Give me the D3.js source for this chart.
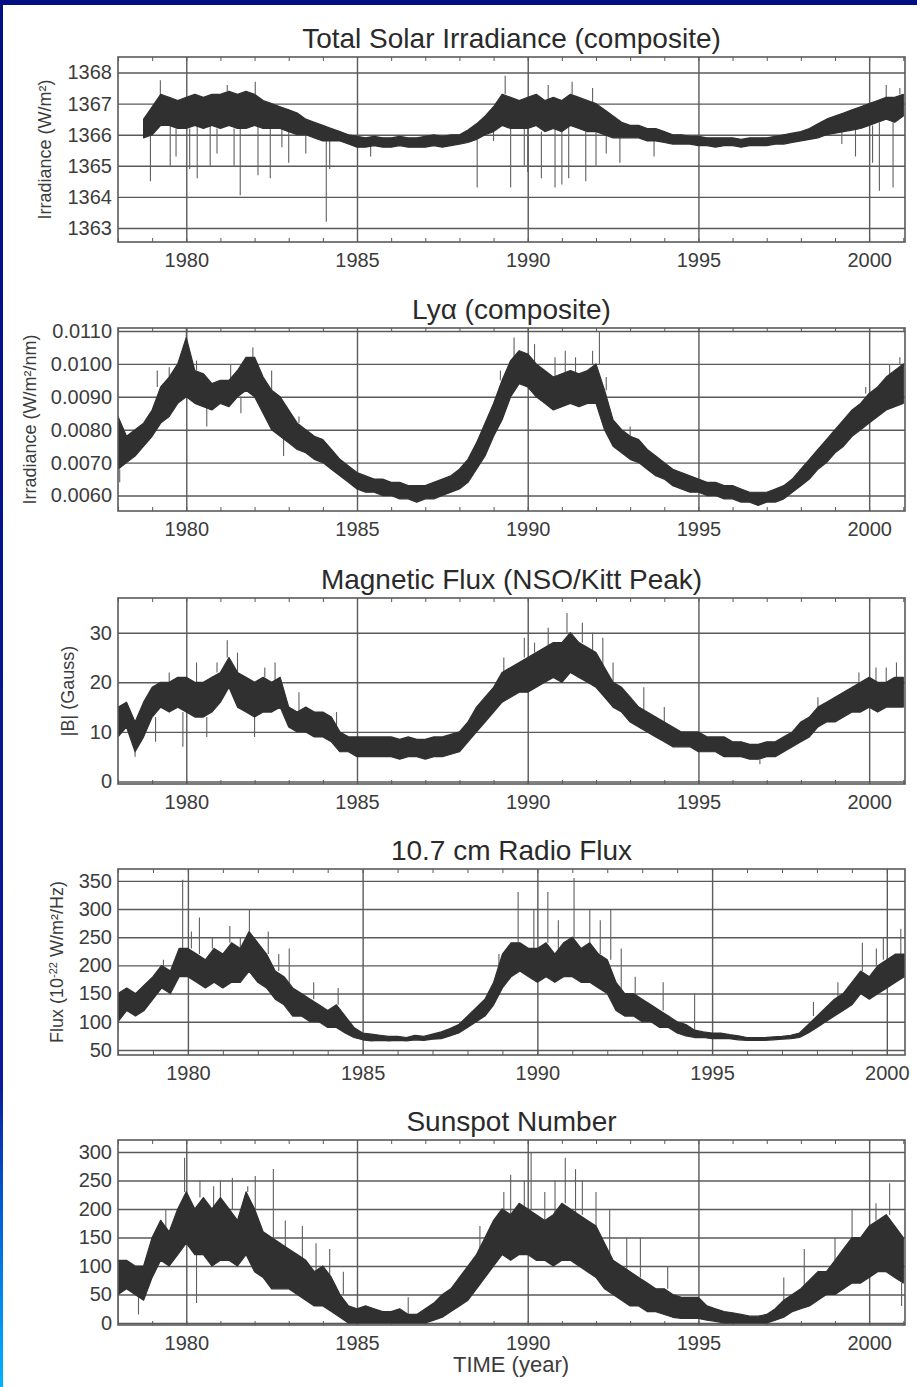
<!DOCTYPE html>
<html>
<head>
<meta charset="utf-8">
<script src="https://cdn.jsdelivr.net/npm/d3@7"></script>
<style>
  body { margin: 0; background: #fff; }
  svg text { font-family: "Liberation Sans", Arial, Helvetica, sans-serif; }
</style>
</head>
<body>
<div id="chart"></div>
<script>
// quarterly sampling grid, 1978.00 .. 2001.00
var sampleYears = d3.range(1978, 2001.001, 0.25);
var majorYears = [1980, 1985, 1990, 1995, 2000];
var minorYears = d3.range(1978, 2002, 1);

// Total solar irradiance, core band (W/m2)
var tsiLo = [null,null,null,1365.9,
  1366.0,1366.3,1366.3,1366.2, 1366.2,1366.3,1366.2,1366.3, 1366.2,1366.3,1366.2,1366.2,
  1366.3,1366.2,1366.2,1366.2, 1366.1,1366.0,1366.0,1365.9, 1365.8,1365.8,1365.8,1365.7,
  1365.6,1365.6,1365.65,1365.6, 1365.6,1365.65,1365.6,1365.6, 1365.6,1365.65,1365.6,1365.65,
  1365.7,1365.75,1365.85,1366.0, 1366.1,1366.3,1366.2,1366.2, 1366.2,1366.3,1366.1,1366.2,
  1366.1,1366.3,1366.2,1366.1, 1366.1,1366.0,1365.9,1365.9, 1365.9,1365.9,1365.8,1365.8,
  1365.75,1365.7,1365.7,1365.7, 1365.65,1365.65,1365.6,1365.65, 1365.65,1365.6,1365.65,1365.65,
  1365.65,1365.7,1365.7,1365.75, 1365.8,1365.85,1365.9,1366.0, 1366.05,1366.1,1366.15,1366.2,
  1366.3,1366.4,1366.5,1366.4, 1366.6];
var tsiHi = [null,null,null,1366.5,
  1366.9,1367.3,1367.2,1367.1, 1367.2,1367.3,1367.2,1367.3, 1367.3,1367.4,1367.3,1367.4,
  1367.3,1367.1,1367.0,1366.9, 1366.8,1366.7,1366.5,1366.4, 1366.3,1366.2,1366.1,1366.0,
  1365.95,1365.9,1365.95,1365.9, 1365.9,1365.95,1365.9,1365.9, 1365.95,1366.0,1365.95,1366.0,
  1366.0,1366.15,1366.35,1366.6, 1366.9,1367.3,1367.2,1367.1, 1367.2,1367.3,1367.1,1367.2,
  1367.1,1367.3,1367.2,1367.1, 1367.0,1366.8,1366.6,1366.4, 1366.3,1366.3,1366.2,1366.2,
  1366.1,1366.0,1366.0,1365.95, 1365.95,1365.9,1365.9,1365.9, 1365.9,1365.85,1365.9,1365.9,
  1365.9,1365.95,1366.0,1366.05, 1366.1,1366.2,1366.35,1366.5, 1366.6,1366.7,1366.8,1366.9,
  1367.0,1367.1,1367.2,1367.2, 1367.3];
var tsiSpikes = [[1978.95,1364.5],[1979.24,1367.75],[1979.53,1365.0],[1979.7,1365.3],[1980.1,1364.9],
  [1980.32,1364.6],[1980.7,1365.0],[1980.9,1365.4],[1981.2,1367.6],[1981.4,1365.0],[1981.58,1364.05],
  [1982.02,1367.7],[1982.1,1364.7],[1982.46,1364.6],[1982.8,1365.6],[1983.0,1365.1],[1983.5,1365.4],
  [1984.1,1363.2],[1984.2,1364.9],[1985.4,1365.3],[1988.52,1364.3],[1989.0,1365.8],[1989.34,1367.9],
  [1989.5,1364.3],[1989.9,1365.0],[1990.0,1364.8],[1990.4,1364.6],[1990.6,1367.6],[1990.8,1364.3],
  [1991.0,1364.4],[1991.2,1364.6],[1991.3,1367.7],[1991.7,1364.5],[1991.9,1367.5],[1992.0,1365.0],
  [1992.3,1365.4],[1992.7,1365.1],[1993.7,1365.3],[1999.2,1365.7],[1999.6,1365.3],[2000.1,1365.1],
  [2000.3,1364.2],[2000.5,1367.6],[2000.7,1364.3],[2000.9,1367.5]];
var tsiTicks = [1363, 1364, 1365, 1366, 1367, 1368];

// Lyman alpha (W/m2/nm)
var lyaLo = [0.0068,0.0070,0.0072,0.0075, 0.0078,0.0082,0.0084,0.0088, 0.0090,0.0088,0.0087,0.0086,
  0.0088,0.0087,0.0090,0.0092, 0.0090,0.0085,0.0080,0.0078, 0.0076,0.0074,0.0073,0.0071,
  0.0070,0.0068,0.0066,0.0064, 0.0062,0.0061,0.0061,0.0060, 0.0060,0.0059,0.0059,0.0058,
  0.0059,0.0059,0.0060,0.0061, 0.0062,0.0064,0.0068,0.0072, 0.0078,0.0083,0.0090,0.0094,
  0.0093,0.0090,0.0088,0.0086, 0.0087,0.0088,0.0087,0.0088, 0.0088,0.0080,0.0075,0.0073,
  0.0071,0.0070,0.0068,0.0066, 0.0065,0.0063,0.0062,0.0061, 0.0061,0.0060,0.0060,0.0059,
  0.0059,0.0058,0.0058,0.0057, 0.0058,0.0058,0.0059,0.0061, 0.0063,0.0065,0.0068,0.0070,
  0.0073,0.0075,0.0078,0.0080, 0.0082,0.0084,0.0086,0.0087, 0.0088];
var lyaHi = [0.0084,0.0078,0.0080,0.0082, 0.0086,0.0093,0.0096,0.0100, 0.0108,0.0098,0.0097,0.0094,
  0.0095,0.0095,0.0098,0.0102, 0.0102,0.0096,0.0092,0.0090, 0.0086,0.0082,0.0080,0.0078,
  0.0077,0.0074,0.0071,0.0069, 0.0067,0.0066,0.0065,0.0065, 0.0064,0.0064,0.0063,0.0063,
  0.0063,0.0064,0.0065,0.0066, 0.0068,0.0071,0.0076,0.0082, 0.0088,0.0095,0.0101,0.0104,
  0.0103,0.0100,0.0098,0.0096, 0.0097,0.0098,0.0097,0.0098, 0.0100,0.0092,0.0083,0.0080,
  0.0078,0.0077,0.0074,0.0072, 0.0070,0.0068,0.0067,0.0066, 0.0065,0.0064,0.0064,0.0063,
  0.0063,0.0062,0.0061,0.0061, 0.0061,0.0062,0.0063,0.0065, 0.0068,0.0071,0.0074,0.0077,
  0.0080,0.0083,0.0086,0.0088, 0.0091,0.0093,0.0096,0.0098, 0.0100];
var lyaSpikes = [[1978.05,0.0064],[1979.15,0.0098],[1979.5,0.0099],[1980.0,0.0111],[1980.3,0.0101],
  [1980.6,0.0081],[1981.3,0.0100],[1981.6,0.0085],[1981.95,0.0105],[1982.5,0.0098],[1982.85,0.0072],
  [1983.3,0.0084],[1989.2,0.0098],[1989.6,0.0108],[1990.2,0.0106],[1990.8,0.0102],[1991.1,0.0104],
  [1991.4,0.0102],[1991.9,0.0104],[1992.1,0.0110],[1992.3,0.0096],[1993.0,0.0081],[1999.9,0.0093],
  [2000.6,0.0100],[2000.9,0.0102]];
var lyaTicks = [0.006, 0.007, 0.008, 0.009, 0.010, 0.011];

// Magnetic flux |B| (Gauss)
var mfLo = [9,11,6,9, 13,15,14,15, 14,13,13,14, 16,19,15,14, 13,14,14,15, 11,10,10,9,
  9,8,6,6, 5,5,5,5, 5,4.5,5,5, 4.5,5,5,5.5, 6,8,10,12, 14,16,17,18, 18,19,20,21,
  20,22,21,20, 19,17,15,14, 12,11,10,9, 8,7,7,7, 6,6,6,5, 5,5,4.5,4.5, 5,5,6,7,
  8,9,11,12, 12,13,14,14, 15,14,15,15, 15];
var mfHi = [15,16,12,16, 19,20,20,21, 21,20,20,21, 22,25,22,21, 20,21,20,21, 15,14,15,14,
  14,13,10,9, 9,9,9,9, 9,8.5,9,8.5, 8.5,9,9,9.5, 10,12,15,17, 19,22,23,24, 25,26,27,28,
  28,30,28,27, 26,23,20,19, 17,15,14,13, 12,11,10,10, 10,9,9,9, 8,8,7.5,7.5, 8,8,9,10,
  12,13,15,16, 17,18,19,20, 21,20,20,21, 21];
var mfSpikes = [[1978.5,5],[1979.1,8],[1979.5,22],[1979.9,7],[1980.3,24],[1980.6,9],[1980.9,24],
  [1981.2,28.5],[1981.5,26],[1982.0,9],[1982.3,23],[1982.6,24],[1983.3,18],[1984.4,14],[1989.3,25],
  [1989.9,29],[1990.2,28],[1990.6,31],[1991.15,34],[1991.6,32],[1991.9,30],[1992.2,29],[1992.5,24],
  [1993.4,19],[1994.0,15],[1996.8,3.5],[1998.5,17],[1999.7,22],[2000.2,23],[2000.5,23],[2000.8,24]];
var mfTicks = [0, 10, 20, 30];

// 10.7 cm radio flux (1e-22 W/m2/Hz)
var rfLo = [100,120,110,120, 140,160,150,180, 180,170,160,170, 160,170,170,190, 170,160,140,130,
  110,110,100,100, 90,90,80,72, 68,66,67,66, 67,66,68,67, 69,70,75,80, 90,100,110,130,
  160,180,190,180, 170,180,170,180, 180,170,170,160, 150,120,110,110, 100,100,90,90,
  80,75,72,72, 70,70,70,68, 67,67,67,68, 69,70,72,80, 90,100,110,120, 130,150,140,150,
  160,170,180,null, null];
var rfHi = [150,160,150,165, 180,200,190,230, 230,220,210,230, 220,240,230,260, 240,220,190,180,
  160,150,140,130, 120,130,110,90, 80,78,76,74, 74,72,76,74, 78,82,88,95, 110,125,140,170,
  220,240,240,230, 230,240,220,240, 250,230,240,220, 210,170,150,150, 140,130,120,110,
  100,95,85,82, 80,80,77,75, 72,72,72,73, 74,76,80,95, 110,125,140,150, 170,190,180,200,
  210,220,220,null, null];
var rfSpikes = [[1978.0,85],[1979.3,210],[1979.85,352],[1980.1,260],[1980.33,285],[1980.7,250],
  [1981.2,270],[1981.5,250],[1981.76,300],[1982.3,260],[1982.6,220],[1982.9,230],[1983.6,170],
  [1984.3,160],[1988.9,200],[1989.45,330],[1989.9,300],[1990.3,330],[1990.6,280],[1991.05,355],
  [1991.5,300],[1991.8,280],[1992.1,300],[1992.4,230],[1992.8,180],[1993.6,170],[1994.5,150],
  [1997.9,135],[1998.6,170],[1999.3,240],[1999.7,230],[1999.9,250],[2000.4,265]];
var rfTicks = [50, 100, 150, 200, 250, 300, 350];

// Sunspot number
var ssLo = [50,60,50,40, 80,110,100,120, 140,120,120,100, 110,110,100,120, 90,80,60,60,
  60,50,40,30, 30,20,10,0, 0,0,0,0, 0,0,0,0, 0,5,10,20, 30,40,60,80, 100,120,110,120,
  120,110,110,100, 110,110,100,90, 80,60,50,40, 30,30,20,20, 15,10,8,8, 8,5,3,0,
  0,0,0,0, 0,5,10,20, 25,30,40,50, 50,60,70,70, 80,90,90,80, 70];
var ssHi = [110,110,100,100, 150,180,160,200, 230,200,220,200, 220,200,180,230, 200,160,150,140,
  130,120,110,90, 100,80,50,30, 25,30,25,20, 20,25,15,15, 25,35,50,60, 80,100,120,150,
  180,200,190,210, 200,190,180,190, 210,200,190,180, 170,140,110,100, 90,80,70,60,
  60,50,45,45, 45,30,25,20, 18,15,12,12, 15,25,40,50, 60,75,90,90, 110,130,150,150,
  170,180,190,170, 150];
var ssSpikes = [[1978.0,0],[1978.6,15],[1979.4,200],[1979.95,290],[1980.3,35],[1980.4,250],
  [1980.8,240],[1981.0,250],[1981.35,255],[1981.8,240],[1982.02,258],[1982.55,270],[1982.9,180],
  [1983.4,170],[1983.8,140],[1984.2,130],[1984.6,90],[1986.5,45],[1988.6,170],[1989.3,230],
  [1989.5,260],[1989.9,250],[1990.1,300],[1990.5,230],[1990.8,250],[1991.1,290],[1991.4,270],
  [1991.6,250],[1992.0,230],[1992.4,200],[1992.9,150],[1993.3,150],[1994.1,100],[1997.5,80],
  [1998.1,130],[1999.0,150],[1999.5,200],[2000.2,210],[2000.6,245],[2000.95,30]];
var ssTicks = [0, 50, 100, 150, 200, 250, 300];

var W = 917, H = 1387;
var left = 118, right = 905;

var panels = [
  { title: "Total Solar Irradiance (composite)", top: 57, bottom: 242, xDom: [1978, 2001.05],
    yDom: [1362.55, 1368.5], ticks: tsiTicks, fmt: d3.format("d"),
    lo: tsiLo, hi: tsiHi, spikes: tsiSpikes, label: [["Irradiance (W/m²)", 0]], labelX: 45 },
  { title: "Lyα (composite)", top: 328, bottom: 511, xDom: [1978, 2001.05],
    yDom: [0.00553, 0.01109], ticks: lyaTicks, fmt: d3.format(".4f"),
    lo: lyaLo, hi: lyaHi, spikes: lyaSpikes, label: [["Irradiance (W/m²/nm)", 0]], labelX: 30 },
  { title: "Magnetic Flux (NSO/Kitt Peak)", top: 598, bottom: 784, xDom: [1978, 2001.05],
    yDom: [-0.5, 37], ticks: mfTicks, fmt: d3.format("d"),
    lo: mfLo, hi: mfHi, spikes: mfSpikes, label: [["|B| (Gauss)", 0]], labelX: 68 },
  { title: "10.7 cm Radio Flux", top: 869, bottom: 1055, xDom: [1978, 2000.52],
    yDom: [41, 371], ticks: rfTicks, fmt: d3.format("d"),
    lo: rfLo, hi: rfHi, spikes: rfSpikes,
    label: [["Flux (10", 0], ["-22", 1], [" W/m²/Hz)", 0]], labelX: 57 },
  { title: "Sunspot Number", top: 1140, bottom: 1325, xDom: [1978, 2001.05],
    yDom: [-3.5, 321], ticks: ssTicks, fmt: d3.format("d"),
    lo: ssLo, hi: ssHi, spikes: ssSpikes, label: null, labelX: 0 }
];

var svg = d3.select("#chart").append("svg")
  .attr("width", W)
  .attr("height", H);

// slide background: navy border with a blue fade on the left
var grad = svg.append("defs").append("linearGradient")
  .attr("id", "bg").attr("x1", 0).attr("y1", 0).attr("x2", 0).attr("y2", 1);
grad.append("stop").attr("offset", "0").attr("stop-color", "#000f82");
grad.append("stop").attr("offset", "0.78").attr("stop-color", "#0a1a9a");
grad.append("stop").attr("offset", "0.88").attr("stop-color", "#0062dc");
grad.append("stop").attr("offset", "1").attr("stop-color", "#00b4ff");

svg.append("rect").attr("width", W).attr("height", H).attr("fill", "url(#bg)");
svg.append("rect").attr("x", 3).attr("y", 5).attr("width", W - 3).attr("height", H - 5).attr("fill", "#fff");

var gridColor = "#5a5a5a";

panels.forEach(function(p, k) {
  var w = right - left, h = p.bottom - p.top;
  var x = d3.scaleLinear().domain(p.xDom).range([0, w]);
  var y = d3.scaleLinear().domain(p.yDom).range([h, 0]);

  var g = svg.append("g").attr("transform", "translate(" + left + "," + p.top + ")");

  g.append("clipPath").attr("id", "clip" + k)
    .append("rect").attr("width", w).attr("height", h);

  // horizontal grid + y labels
  var yAxis = g.append("g").attr("class", "y-axis")
    .call(d3.axisLeft(y).tickValues(p.ticks).tickFormat(p.fmt).tickSize(-w).tickPadding(6));
  yAxis.select(".domain").remove();
  yAxis.selectAll("line").attr("stroke", gridColor).attr("stroke-width", 1.4);
  yAxis.selectAll("text").attr("font-size", "20px").attr("fill", "#3c3c3c");

  // vertical grid at 5-year marks + year labels
  var xAxis = g.append("g").attr("class", "x-axis")
    .attr("transform", "translate(0," + h + ")")
    .call(d3.axisBottom(x).tickValues(majorYears).tickFormat(d3.format("d")).tickSize(-h).tickPadding(11));
  xAxis.select(".domain").remove();
  xAxis.selectAll("line").attr("stroke", gridColor).attr("stroke-width", 1.4);
  xAxis.selectAll("text").attr("font-size", "20px").attr("fill", "#3c3c3c");

  // yearly minor ticks, top and bottom
  var minor = minorYears.filter(function(v) { return v <= p.xDom[1]; });
  var minB = g.append("g").attr("transform", "translate(0," + h + ")")
    .call(d3.axisBottom(x).tickValues(minor).tickFormat("").tickSize(-4));
  minB.select(".domain").remove();
  minB.selectAll("line").attr("stroke", gridColor);
  var minT = g.append("g")
    .call(d3.axisTop(x).tickValues(minor).tickFormat("").tickSize(-4));
  minT.select(".domain").remove();
  minT.selectAll("line").attr("stroke", gridColor);

  // data
  var rows = sampleYears.map(function(t, i) { return { t: t, lo: p.lo[i], hi: p.hi[i] }; });
  var data = g.append("g").attr("clip-path", "url(#clip" + k + ")");

  data.selectAll(".spike")
    .data(p.spikes)
    .enter().append("line")
      .attr("class", "spike")
      .attr("x1", function(d) { return x(d[0]); })
      .attr("x2", function(d) { return x(d[0]); })
      .attr("y1", function(d) {
        var i = Math.round((d[0] - sampleYears[0]) / 0.25);
        var r = rows[Math.min(i, rows.length - 1)];
        if (r.lo == null) return y(d[1]);
        return d[1] < r.lo ? y(r.lo) : y(r.hi);
      })
      .attr("y2", function(d) { return y(d[1]); })
      .attr("stroke", "#606060")
      .attr("stroke-width", 1.1);

  var area = d3.area()
    .defined(function(d) { return d.lo != null && d.hi != null; })
    .x(function(d) { return x(d.t); })
    .y0(function(d) { return y(d.lo); })
    .y1(function(d) { return y(d.hi); });

  data.append("path")
    .datum(rows)
    .attr("d", area)
    .attr("fill", "#303030")
    .attr("stroke", "#303030")
    .attr("stroke-width", 1.2)
    .attr("stroke-linejoin", "round");

  // frame
  g.append("rect").attr("width", w).attr("height", h)
    .attr("fill", "none").attr("stroke", gridColor).attr("stroke-width", 1.6);

  // title
  g.append("text")
    .attr("x", w / 2)
    .attr("y", -9)
    .attr("text-anchor", "middle")
    .attr("font-size", "28px")
    .attr("fill", "#2a2a2a")
    .text(p.title);

  // y axis title
  if (p.label) {
    var lab = svg.append("text")
      .attr("transform", "translate(" + (p.labelX + 6) + "," + (p.top + h / 2) + ") rotate(-90)")
      .attr("text-anchor", "middle")
      .attr("font-size", "18px")
      .attr("fill", "#3c3c3c");
    p.label.forEach(function(part) {
      var ts = lab.append("tspan").text(part[0]);
      if (part[1]) ts.attr("font-size", "11px").attr("baseline-shift", "super");
    });
  }
});

svg.append("text")
  .attr("x", 511)
  .attr("y", 1372)
  .attr("text-anchor", "middle")
  .attr("font-size", "22px")
  .attr("fill", "#3c3c3c")
  .text("TIME (year)");
</script>
</body>
</html>
